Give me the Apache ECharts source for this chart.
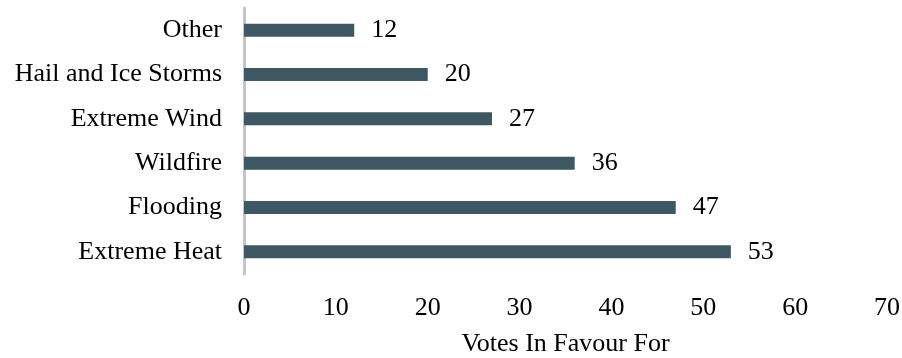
<!DOCTYPE html>
<html>
<head>
<meta charset="utf-8">
<style>
html,body{margin:0;padding:0;background:#fff;}
#chart{width:902px;height:358px;}
</style>
<script src="https://cdn.jsdelivr.net/npm/echarts@6/dist/echarts.min.js"></script>
</head>
<body>
<div id="chart"></div>
<script>
const categories = ["Extreme Heat", "Flooding", "Wildfire", "Extreme Wind", "Hail and Ice Storms", "Other"];
const votes = [53, 47, 36, 27, 20, 12];
const xTicks = { min: 0, max: 70, interval: 10 };
const xAxisTitle = "Votes In Favour For";

const FONT = "'Liberation Serif', 'Times New Roman', serif";
const chart = echarts.init(document.getElementById('chart'), null, {renderer: 'canvas'});
chart.setOption({
  animation: false,
  backgroundColor: '#ffffff',
  grid: { left: 244, right: 15, top: 8, bottom: 84, containLabel: false, outerBoundsMode: 'none' },
  xAxis: {
    type: 'value',
    min: xTicks.min, max: xTicks.max, interval: xTicks.interval,
    name: xAxisTitle,
    nameLocation: 'middle',
    nameGap: 57,
    nameTextStyle: { fontFamily: FONT, fontSize: 26, color: '#000' },
    axisLine: { show: false },
    axisTick: { show: false },
    splitLine: { show: false },
    axisLabel: { fontFamily: FONT, fontSize: 26, color: '#000', margin: 21 }
  },
  yAxis: {
    type: 'category',
    data: categories,
    axisLine: { show: true, lineStyle: { color: '#c4c4c4', width: 3 } },
    axisTick: { show: false },
    axisLabel: { fontFamily: FONT, fontSize: 26, color: '#000', margin: 22 }
  },
  series: [{
    type: 'bar',
    data: votes,
    barWidth: 13,
    itemStyle: { color: '#3d5862' },
    label: {
      show: true, position: 'right', distance: 17,
      fontFamily: FONT, fontSize: 26, color: '#000'
    }
  }]
});
</script>
</body>
</html>
